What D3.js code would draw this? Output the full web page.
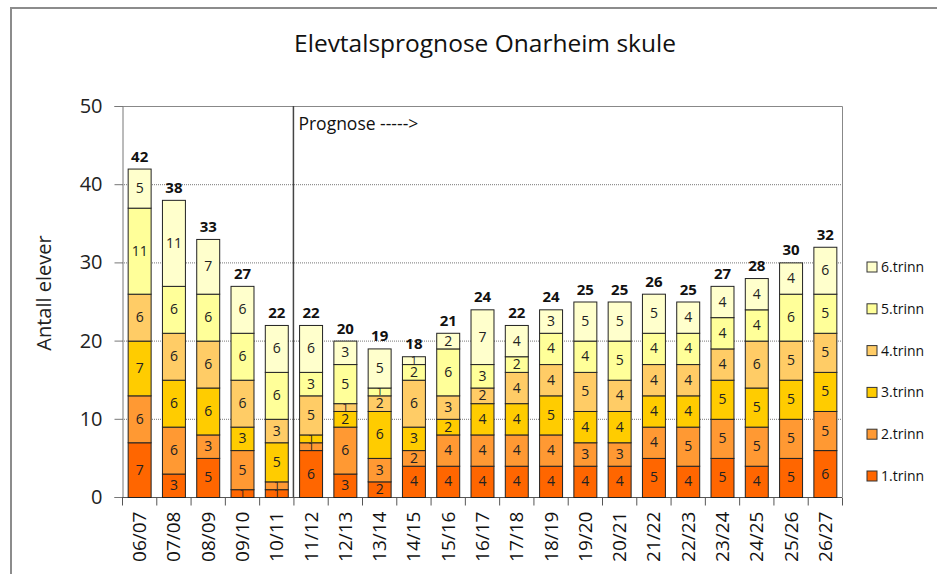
<!DOCTYPE html>
<html>
<head>
<meta charset="utf-8">
<script src="https://cdn.jsdelivr.net/npm/d3@7"></script>
<style>
  body { margin: 0; background: #fff; }
  svg { font-family: "Open Sans", "Noto Sans", sans-serif; }
</style>
</head>
<body>
<svg id="chart" width="937" height="574"></svg>
<script>
// school years on the x axis
const years = ["06/07", "07/08", "08/09", "09/10", "10/11", "11/12", "12/13", "13/14", "14/15", "15/16", "16/17",
    "17/18", "18/19", "19/20", "20/21", "21/22", "22/23", "23/24", "24/25", "25/26", "26/27"];

// pupils per grade, one array per grade (bottom to top)
const trinn1 = [7, 3, 5, 1, 1, 6, 3, 2, 4, 4, 4, 4, 4, 4, 4, 5, 4, 5, 4, 5, 6];
const trinn2 = [6, 6, 3, 5, 1, 1, 6, 3, 2, 4, 4, 4, 4, 3, 3, 4, 5, 5, 5, 5, 5];
const trinn3 = [7, 6, 6, 3, 5, 1, 2, 6, 3, 2, 4, 4, 5, 4, 4, 4, 4, 5, 5, 5, 5];
const trinn4 = [6, 6, 6, 6, 3, 5, 1, 2, 6, 3, 2, 4, 4, 5, 4, 4, 4, 4, 6, 5, 5];
const trinn5 = [11, 6, 6, 6, 6, 3, 5, 1, 2, 6, 3, 2, 4, 4, 5, 4, 4, 4, 4, 6, 5];
const trinn6 = [5, 11, 7, 6, 6, 6, 3, 5, 1, 2, 7, 4, 3, 5, 5, 5, 4, 4, 4, 4, 6];

const seriesNames = ["1.trinn", "2.trinn", "3.trinn", "4.trinn", "5.trinn", "6.trinn"];
const seriesColors = ["#ff6600", "#ff9933", "#ffcc00", "#ffcc66", "#ffff99", "#ffffcc"];
const yTicks = [0, 10, 20, 30, 40, 50];
const forecastStart = "11/12";

const allSeries = [trinn1, trinn2, trinn3, trinn4, trinn5, trinn6];
const rows = years.map((y, i) => {
    const row = { year: y };
    seriesNames.forEach((s, j) => { row[s] = allSeries[j][i]; });
    return row;
});

const svg = d3.select("#chart");
const plotLeft = 122, plotRight = 842, plotTop = 106, plotBottom = 497;

const x = d3.scaleBand()
    .domain(years)
    .range([plotLeft, plotRight])
    .paddingInner(0.33)
    .paddingOuter(0.165);

const y = d3.scaleLinear()
    .domain([0, 50])
    .range([plotBottom, plotTop]);

// outer frame of the chart
svg.append("rect")
    .attr("x", 11).attr("y", 8)
    .attr("width", 940).attr("height", 580)
    .attr("fill", "none")
    .attr("stroke", "#8c8c8c")
    .attr("stroke-width", 2);

// title
svg.append("text")
    .attr("x", 485).attr("y", 52)
    .attr("text-anchor", "middle")
    .attr("font-size", 24.5)
    .attr("fill", "#111")
    .text("Elevtalsprognose Onarheim skule");

// dotted gridlines
svg.append("g")
    .selectAll("line")
    .data(yTicks.filter(t => t > 0 && t < 50))
    .join("line")
    .attr("x1", plotLeft).attr("x2", plotRight)
    .attr("y1", d => y(d) + 0.5).attr("y2", d => y(d) + 0.5)
    .attr("stroke", "#777")
    .attr("stroke-dasharray", "1,1");

// plot area border (top and right)
svg.append("path")
    .attr("d", `M${plotLeft},${y(50) + 0.5}H${plotRight + 0.5}V${plotBottom}`)
    .attr("fill", "none")
    .attr("stroke", "#888");

// y axis
const yAxis = svg.append("g")
    .attr("transform", `translate(${plotLeft + 0.5},0)`)
    .call(d3.axisLeft(y).tickValues(yTicks).tickSize(8).tickPadding(12));
yAxis.select(".domain").attr("stroke", "#777");
yAxis.selectAll(".tick line").attr("stroke", "#777");
yAxis.selectAll(".tick text")
    .attr("font-size", 20)
    .attr("fill", "#222")
    .attr("font-family", "Open Sans, sans-serif");

svg.append("text")
    .attr("transform", "translate(51,293) rotate(-90)")
    .attr("text-anchor", "middle")
    .attr("font-size", 20)
    .attr("fill", "#222")
    .text("Antall elever");

// x axis with ticks on category boundaries
const xAxis = svg.append("g")
    .attr("transform", `translate(0,${plotBottom + 0.5})`);
xAxis.append("line")
    .attr("x1", plotLeft).attr("x2", plotRight)
    .attr("stroke", "#555");
xAxis.selectAll(".bound")
    .data(d3.range(years.length + 1))
    .join("line")
    .attr("class", "bound")
    .attr("x1", i => plotLeft + i * x.step() + 0.5)
    .attr("x2", i => plotLeft + i * x.step() + 0.5)
    .attr("y1", 0).attr("y2", 8)
    .attr("stroke", "#555");
xAxis.selectAll(".lbl")
    .data(years)
    .join("text")
    .attr("class", "lbl")
    .attr("transform", d => `translate(${x(d) + x.bandwidth() / 2 + 7},14) rotate(-90)`)
    .attr("text-anchor", "end")
    .attr("font-size", 19)
    .attr("fill", "#111")
    .text(d => d);

// stacked bars
const stack = d3.stack().keys(seriesNames);
const stacked = stack(rows);

const layers = svg.append("g")
    .selectAll("g")
    .data(stacked)
    .join("g")
    .attr("fill", (d, i) => seriesColors[i]);

layers.selectAll("rect")
    .data(d => d)
    .join("rect")
    .attr("x", d => x(d.data.year) + 0.5)
    .attr("y", d => y(d[1]) + 0.5)
    .attr("width", x.bandwidth())
    .attr("height", d => y(d[0]) - y(d[1]))
    .attr("stroke", "#222")
    .attr("stroke-width", 1);

// value inside each segment (the thin 1-segments get a smaller digit)
layers.selectAll("text")
    .data(d => d)
    .join("text")
    .attr("x", d => x(d.data.year) + x.bandwidth() / 2 + 0.5)
    .attr("y", d => (y(d[0]) + y(d[1])) / 2 + ((d[1] - d[0]) < 2 ? 4 : 5))
    .attr("text-anchor", "middle")
    .attr("font-size", d => (d[1] - d[0]) < 2 ? 11 : 14)
    .attr("fill", "#222")
    .text(d => d[1] - d[0]);

// totals above bars
svg.append("g")
    .selectAll("text")
    .data(rows)
    .join("text")
    .attr("x", d => x(d.year) + x.bandwidth() / 2 + 0.5)
    .attr("y", d => y(d3.sum(seriesNames, s => d[s])) - 7)
    .attr("text-anchor", "middle")
    .attr("font-size", 15)
    .attr("font-weight", "bold")
    .attr("fill", "#111")
    .text(d => d3.sum(seriesNames, s => d[s]));

// forecast divider
const fx = x(forecastStart) - x.step() * x.paddingInner() / 2;
svg.append("line")
    .attr("x1", fx).attr("x2", fx)
    .attr("y1", plotTop).attr("y2", plotBottom)
    .attr("stroke", "#444")
    .attr("stroke-width", 1.5);
svg.append("text")
    .attr("x", fx + 5).attr("y", 130)
    .attr("font-size", 17.5)
    .attr("fill", "#111")
    .text("Prognose ----->");

// legend, 6.trinn at top
const legend = svg.append("g")
    .selectAll("g")
    .data(seriesNames.slice().reverse())
    .join("g")
    .attr("transform", (d, i) => `translate(867,${262 + i * 41.8})`);
legend.append("rect")
    .attr("width", 10).attr("height", 10)
    .attr("fill", d => seriesColors[seriesNames.indexOf(d)])
    .attr("stroke", "#333");
legend.append("text")
    .attr("x", 14).attr("y", 10)
    .attr("font-size", 14)
    .attr("fill", "#111")
    .text(d => d);
</script>
</body>
</html>
